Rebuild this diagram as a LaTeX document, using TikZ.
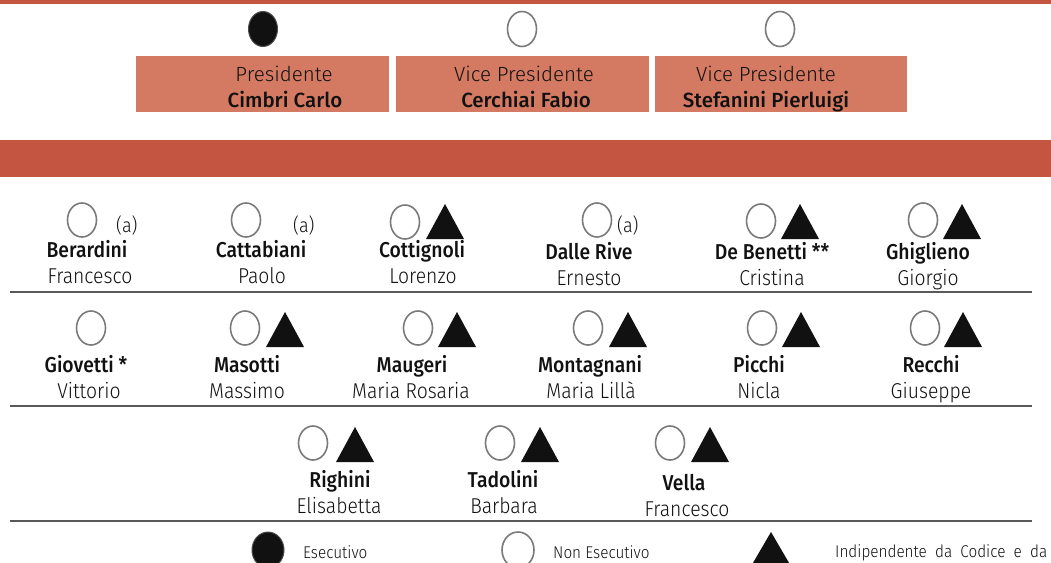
\documentclass[tikz,border=0pt]{standalone}
\usepackage{fontspec}
\setmainfont{Fira Sans Light}[BoldFont={Fira Sans Medium}, FakeStretch=0.9]
\newfontfamily\boxfont{Fira Sans Light}[BoldFont={Fira Sans Medium}]
\usetikzlibrary{shapes.geometric}
\definecolor{band}{HTML}{C45540}
\definecolor{boxc}{HTML}{D47A62}
\definecolor{ringc}{HTML}{7A7A7A}
\definecolor{inkc}{HTML}{111111}
\tikzset{
  ring/.style={ellipse, draw=ringc, line width=1.6pt, minimum width=29pt, minimum height=34pt, inner sep=0pt},
  bigring/.style={ellipse, draw=ringc, line width=1.6pt, minimum width=29pt, minimum height=35pt, inner sep=0pt},
  dot/.style={ellipse, fill=inkc, draw=black!70, line width=1pt, minimum width=29pt, minimum height=35pt, inner sep=0pt},
  nm/.style={anchor=base, inner sep=0pt, font=\fontsize{21.5}{23}\selectfont\bfseries, text=inkc},
  fn/.style={anchor=base, inner sep=0pt, font=\fontsize{21.5}{23}\selectfont, text=inkc},
  note/.style={anchor=base west, inner sep=0pt, font=\fontsize{20}{22}\selectfont, text=inkc},
  boxt/.style={anchor=base, inner sep=0pt, font=\boxfont\fontsize{20.5}{22}\selectfont, text=inkc},
  boxn/.style={anchor=base, inner sep=0pt, font=\boxfont\fontsize{20.5}{22}\selectfont\bfseries, text=inkc},
  leg/.style={anchor=base west, inner sep=0pt, font=\fontsize{17}{19}\selectfont, text=inkc},
  sep/.style={draw=black!65, line width=1.1pt},
  tri/.pic={\fill[inkc] (-19,20) -- (0,-15) -- (19,20) -- cycle;}
}
\begin{document}
\begin{tikzpicture}[x=1pt,y=-1pt]
\useasboundingbox (0,0) rectangle (1051,562);
\clip (0,0) rectangle (1051,562);
\fill[white] (0,0) rectangle (1051,562);
% top bar and band
\fill[band] (0,0) rectangle (1051,4);
\fill[band] (0,140) rectangle (1051,177);
% top boxes
\fill[boxc] (136,56) rectangle (389,112);
\fill[boxc] (396,56) rectangle (649,112);
\fill[boxc] (655,56) rectangle (907,112);
\node[dot] (p1) at (263,29) {};
\node[bigring] (p2) at (522,29) {};
\node[bigring] (p3) at (780,29) {};
\node[boxt] (t1) at (284,81) {Presidente};
\node[boxn] (n1) at (285,107) {Cimbri Carlo};
\node[boxt] (t2) at (524,81) {Vice Presidente};
\node[boxn] (n2) at (526,107) {Cerchiai Fabio};
\node[boxt] (t3) at (766,81) {Vice Presidente};
\node[boxn] (n3) at (766,107) {Stefanini Pierluigi};
% row 1
\node[ring] (c11) at (82,220) {};
\node[note] (a11) at (116,232) {(a)};
\node[nm] (m11) at (87,257) {Berardini};
\node[fn] (f11) at (90,283) {Francesco};
\node[ring] (c12) at (246,220) {};
\node[note] (a12) at (293,232) {(a)};
\node[nm] (m12) at (261,257) {Cattabiani};
\node[fn] (f12) at (262,283) {Paolo};
\node[ring] (c13) at (405,222) {};
\pic at (445,219) {tri};
\node[nm] (m13) at (422,257) {Cottignoli};
\node[fn] (f13) at (423,283) {Lorenzo};
\node[ring] (c14) at (597,220) {};
\node[note] (a14) at (617,232) {(a)};
\node[nm] (m14) at (589,259) {Dalle Rive};
\node[fn] (f14) at (589,285) {Ernesto};
\node[ring] (c15) at (761,221) {};
\pic at (800,219) {tri};
\node[nm] (m15) at (772,259) {De Benetti **};
\node[fn] (f15) at (772,285) {Cristina};
\node[ring] (c16) at (923,220) {};
\pic at (962,219) {tri};
\node[nm] (m16) at (928,259) {Ghiglieno};
\node[fn] (f16) at (928,285) {Giorgio};
\coordinate (l1a) at (10,292);
\coordinate (l1b) at (1032,292);
\draw[sep] (l1a) -- (l1b);
% row 2
\node[ring] (c21) at (91,328) {};
\node[nm] (m21) at (86,372) {Giovetti *};
\node[fn] (f21) at (89,398) {Vittorio};
\node[ring] (c22) at (245,328) {};
\pic at (285,327) {tri};
\node[nm] (m22) at (247,372) {Masotti};
\node[fn] (f22) at (247,398) {Massimo};
\node[ring] (c23) at (418,328) {};
\pic at (457,327) {tri};
\node[nm] (m23) at (412,372) {Maugeri};
\node[fn] (f23) at (411,398) {Maria Rosaria};
\node[ring] (c24) at (588,328) {};
\pic at (628,327) {tri};
\node[nm] (m24) at (590,372) {Montagnani};
\node[fn] (f24) at (591,398) {Maria Lillà};
\node[ring] (c25) at (762,328) {};
\pic at (801,327) {tri};
\node[nm] (m25) at (759,372) {Picchi};
\node[fn] (f25) at (759,398) {Nicla};
\node[ring] (c26) at (925,328) {};
\pic at (963,327) {tri};
\node[nm] (m26) at (931,372) {Recchi};
\node[fn] (f26) at (931,398) {Giuseppe};
\coordinate (l2a) at (10,406);
\coordinate (l2b) at (1032,406);
\draw[sep] (l2a) -- (l2b);
% row 3
\node[ring] (c31) at (313,443) {};
\pic at (355,442) {tri};
\node[nm] (m31) at (340,487) {Righini};
\node[fn] (f31) at (339,513) {Elisabetta};
\node[ring] (c32) at (500,443) {};
\pic at (540,442) {tri};
\node[nm] (m32) at (503,487) {Tadolini};
\node[fn] (f32) at (504,513) {Barbara};
\node[ring] (c33) at (670,443) {};
\pic at (710,442) {tri};
\node[nm] (m33) at (684,490) {Vella};
\node[fn] (f33) at (687,516) {Francesco};
\coordinate (l3a) at (10,521);
\coordinate (l3b) at (1032,521);
\draw[sep] (l3a) -- (l3b);
% legend
\node[dot, minimum width=32pt, minimum height=36pt] (g1) at (268,550) {};
\node[leg] (g1t) at (303,558) {Esecutivo};
\node[bigring, minimum width=32pt, minimum height=36pt] (g2) at (518,550) {};
\node[leg] (g2t) at (553,558) {Non Esecutivo};
\fill[inkc] (750,568) -- (771,532) -- (792,568) -- cycle;
\node[leg] (g3t) at (835,557) {\makebox[212pt][s]{Indipendente da Codice e da}};
\end{tikzpicture}
\end{document}
